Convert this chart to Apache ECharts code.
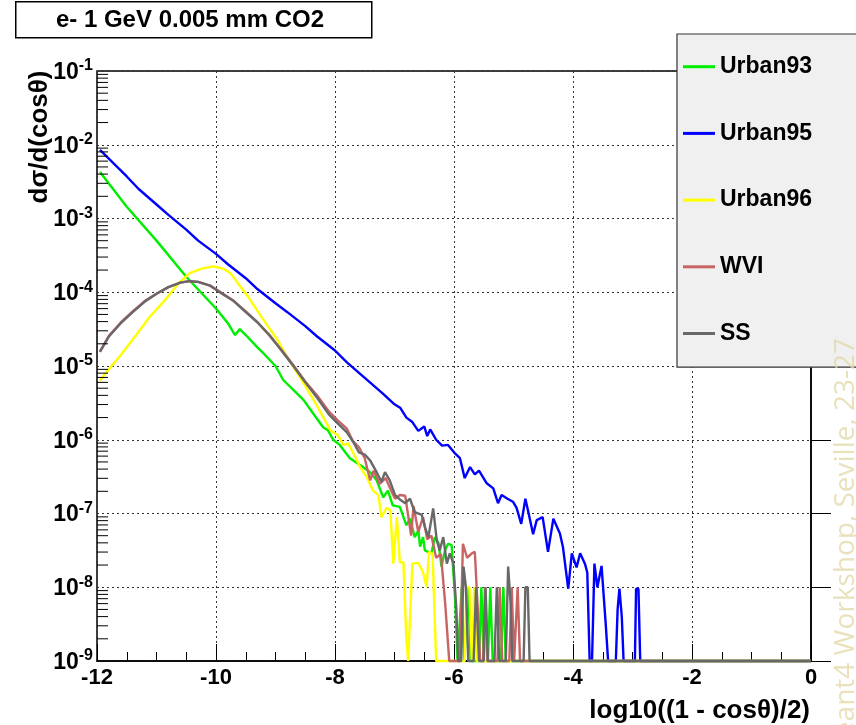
<!DOCTYPE html>
<html><head><meta charset="utf-8">
<script src="https://cdn.jsdelivr.net/npm/echarts/dist/echarts.min.js"></script>
<style>html,body{margin:0;padding:0;background:#fff}#c{width:856px;height:725px}</style>
</head><body><div id="c"></div><script>
// x = log10((1 - cos theta)/2); second number = log10 of d sigma / d(cos theta)
const urban93_log10 = [[-11.95,-2.37],[-11.5,-2.84],[-11.0,-3.30],[-10.5,-3.79],[-10.0,-4.22],[-9.8,-4.42],[-9.68,-4.58],[-9.6,-4.50],[-9.5,-4.58],[-9.3,-4.75],[-9.2,-4.83],[-9.0,-5.00],[-8.87,-5.19],[-8.64,-5.37],[-8.53,-5.46],[-8.37,-5.64],[-8.2,-5.83],[-8.12,-5.87],[-8.03,-6.00],[-7.92,-6.07],[-7.75,-6.25],[-7.53,-6.37],[-7.41,-6.44],[-7.30,-6.55],[-7.19,-6.78],[-7.11,-6.69],[-7.03,-6.89],[-6.91,-6.91],[-6.80,-7.16],[-6.74,-7.07],[-6.66,-7.32],[-6.60,-7.23],[-6.57,-7.45],[-6.52,-7.32],[-6.49,-7.50],[-6.38,-7.54],[-6.32,-7.32],[-6.26,-7.40],[-6.21,-7.72],[-6.15,-7.50],[-6.10,-7.41],[-6.04,-7.43],[-5.98,-8.18],[-5.94,-9],[-5.91,-9],[-5.87,-8.0],[-5.83,-9],[-5.80,-9],[-5.76,-8.0],[-5.72,-9],[-5.58,-9],[-5.54,-8.0],[-5.50,-9],[-5.43,-9],[-5.39,-8.0],[-5.35,-9],[-5.21,-9],[-5.17,-8.0],[-5.13,-9],[0,-9]];
const urban95_log10 = [[-11.95,-2.07],[-11.7,-2.27],[-11.5,-2.43],[-11.3,-2.60],[-11.0,-2.81],[-10.8,-2.95],[-10.5,-3.15],[-10.3,-3.30],[-10.0,-3.48],[-9.8,-3.62],[-9.5,-3.81],[-9.3,-3.96],[-9.0,-4.15],[-8.8,-4.27],[-8.5,-4.46],[-8.3,-4.60],[-8.0,-4.79],[-7.8,-4.95],[-7.5,-5.16],[-7.2,-5.37],[-7.0,-5.52],[-6.9,-5.57],[-6.8,-5.70],[-6.7,-5.76],[-6.6,-5.88],[-6.5,-5.82],[-6.45,-5.95],[-6.4,-5.86],[-6.3,-6.00],[-6.2,-6.08],[-6.1,-6.07],[-6.0,-6.17],[-5.9,-6.25],[-5.82,-6.52],[-5.73,-6.37],[-5.65,-6.47],[-5.58,-6.42],[-5.45,-6.59],[-5.34,-6.66],[-5.26,-6.86],[-5.20,-6.75],[-5.10,-6.80],[-5.01,-6.84],[-4.95,-6.92],[-4.87,-7.14],[-4.80,-6.80],[-4.74,-7.02],[-4.67,-7.28],[-4.61,-7.09],[-4.51,-7.05],[-4.42,-7.52],[-4.33,-7.07],[-4.22,-7.27],[-4.17,-7.45],[-4.08,-8.02],[-4.02,-7.54],[-3.94,-7.73],[-3.88,-7.54],[-3.80,-7.68],[-3.76,-7.80],[-3.72,-9],[-3.68,-9],[-3.64,-7.68],[-3.59,-8.0],[-3.52,-7.71],[-3.45,-8.5],[-3.41,-9],[-3.28,-9],[-3.25,-8.3],[-3.22,-8.02],[-3.18,-8.4],[-3.15,-9],[-2.96,-9],[-2.94,-8.02],[-2.90,-8.02],[-2.87,-9],[0,-9]];
const urban96_log10 = [[-11.95,-5.20],[-11.87,-5.11],[-11.61,-4.86],[-11.36,-4.60],[-11.11,-4.33],[-10.86,-4.11],[-10.63,-3.88],[-10.44,-3.74],[-10.24,-3.68],[-10.05,-3.65],[-9.88,-3.68],[-9.76,-3.74],[-9.63,-3.88],[-9.46,-4.06],[-9.29,-4.27],[-9.12,-4.47],[-8.98,-4.63],[-8.84,-4.83],[-8.56,-5.19],[-8.36,-5.46],[-8.20,-5.69],[-8.08,-5.87],[-7.95,-5.94],[-7.86,-6.07],[-7.78,-6.05],[-7.66,-6.23],[-7.58,-6.37],[-7.47,-6.50],[-7.36,-6.69],[-7.27,-6.75],[-7.22,-7.05],[-7.13,-6.92],[-7.07,-6.96],[-7.02,-7.68],[-6.96,-7.05],[-6.91,-7.66],[-6.85,-7.66],[-6.80,-8.72],[-6.77,-9],[-6.74,-9],[-6.70,-7.68],[-6.60,-7.67],[-6.52,-7.80],[-6.46,-8.0],[-6.42,-7.52],[-6.36,-7.55],[-6.30,-9],[-5.82,-9],[-5.79,-8.0],[-5.74,-8.0],[-5.70,-9],[-5.68,-9],[-5.66,-8.0],[-5.62,-9],[0,-9]];
const wvi_log10 = [[-11.95,-4.80],[-11.8,-4.59],[-11.6,-4.41],[-11.4,-4.26],[-11.2,-4.12],[-11.0,-4.02],[-10.8,-3.93],[-10.6,-3.87],[-10.45,-3.85],[-10.3,-3.86],[-10.1,-3.91],[-9.9,-4.01],[-9.7,-4.12],[-9.5,-4.26],[-9.3,-4.41],[-9.1,-4.59],[-8.9,-4.78],[-8.7,-4.99],[-8.5,-5.21],[-8.3,-5.40],[-8.1,-5.62],[-7.95,-5.74],[-7.8,-5.85],[-7.7,-6.02],[-7.6,-6.10],[-7.5,-6.25],[-7.41,-6.55],[-7.35,-6.42],[-7.25,-6.60],[-7.15,-6.52],[-7.05,-6.70],[-6.99,-6.80],[-6.91,-6.75],[-6.82,-6.76],[-6.72,-7.30],[-6.68,-6.90],[-6.60,-7.25],[-6.52,-7.05],[-6.45,-7.35],[-6.38,-7.30],[-6.30,-7.60],[-6.22,-7.55],[-6.15,-8.2],[-6.12,-8.54],[-6.08,-9],[-5.90,-9],[-5.85,-7.41],[-5.78,-7.60],[-5.70,-7.54],[-5.65,-7.52],[-5.60,-8.3],[-5.56,-9],[-5.51,-9],[-5.48,-8.0],[-5.44,-9],[-5.27,-9],[-5.23,-8.0],[-5.19,-9],[-5.07,-9],[-5.03,-8.0],[-4.99,-9],[-4.97,-9],[-4.93,-8.0],[-4.89,-9],[0,-9]];
const ss_log10 = [[-11.95,-4.81],[-11.8,-4.60],[-11.6,-4.42],[-11.4,-4.27],[-11.2,-4.13],[-11.0,-4.02],[-10.8,-3.93],[-10.6,-3.87],[-10.45,-3.85],[-10.3,-3.86],[-10.1,-3.91],[-9.9,-4.02],[-9.7,-4.12],[-9.5,-4.27],[-9.3,-4.41],[-9.1,-4.58],[-8.9,-4.79],[-8.7,-5.00],[-8.5,-5.22],[-8.3,-5.43],[-8.1,-5.66],[-7.95,-5.78],[-7.8,-5.90],[-7.7,-6.02],[-7.6,-6.17],[-7.5,-6.20],[-7.41,-6.28],[-7.30,-6.44],[-7.22,-6.57],[-7.16,-6.44],[-7.08,-6.55],[-6.99,-6.75],[-6.91,-6.81],[-6.82,-6.86],[-6.74,-6.80],[-6.66,-6.98],[-6.54,-7.02],[-6.49,-7.18],[-6.43,-7.32],[-6.35,-6.93],[-6.29,-7.36],[-6.24,-7.50],[-6.18,-7.32],[-6.12,-7.68],[-6.07,-7.54],[-6.01,-7.68],[-5.96,-8.3],[-5.93,-9],[-5.88,-9],[-5.84,-7.72],[-5.80,-8.0],[-5.76,-9],[-5.67,-9],[-5.63,-8.0],[-5.58,-9],[-5.50,-9],[-5.47,-8.0],[-5.43,-9],[-5.32,-9],[-5.28,-8.0],[-5.24,-9],[-5.13,-9],[-5.09,-7.72],[-5.05,-8.2],[-5.02,-9],[-4.83,-9],[-4.80,-8.0],[-4.76,-8.0],[-4.73,-9],[0,-9]];

const seriesNames = ['Urban93','Urban95','Urban96','WVI','SS'];
const seriesColors = ['#00ee00','#0000ff','#ffff00','#c86464','#686868'];
const seriesData = [urban93_log10, urban95_log10, urban96_log10, wvi_log10, ss_log10];
const xTicks = [-12,-10,-8,-6,-4,-2,0];
const yDecades = [-9,-8,-7,-6,-5,-4,-3,-2,-1];
const titleText = 'e- 1 GeV 0.005 mm CO2';
const xTitle = 'log10((1 - cos\u03b8)/2)';
const yTitle = 'd\u03c3/d(cos\u03b8)';

// minor tick positions of the log axis (2..9 x each decade)
const yMinorTicks = [];
for (let d = -9; d < -1; d++) for (let m = 2; m <= 9; m++) yMinorTicks.push([-12, m * Math.pow(10, d)]);

const FONT = '"Liberation Sans", Arial, Helvetica, sans-serif';
const chart = echarts.init(document.getElementById('c'), null, {renderer: 'canvas'});

const lineSeries = seriesNames.map((n, i) => ({
  name: n, type: 'line', showSymbol: false, symbol: 'none', clip: false,
  color: seriesColors[i],
  lineStyle: {color: seriesColors[i], width: 2.4},
  data: seriesData[i].map(p => [p[0], Math.pow(10, p[1])]),
  animation: false, z: 3 + i
}));

chart.setOption({
  animation: false,
  backgroundColor: '#fff',
  grid: {left: 97, right: 45, top: 71, bottom: 64, show: true, borderColor: '#000', borderWidth: 1.5, backgroundColor: 'transparent'},
  xAxis: {
    type: 'value', min: xTicks[0], max: xTicks[xTicks.length-1], interval: 2,
    axisLine: {show: true, onZero: false, lineStyle: {color: '#000', width: 1.5}},
    axisTick: {show: true, inside: true, length: 17, lineStyle: {color: '#000', width: 1}},
    minorTick: {show: true, splitNumber: 4, length: 9, lineStyle: {color: '#000', width: 1}},
    splitLine: {show: true, lineStyle: {color: '#333', width: 1, type: [2, 3]}},
    axisLabel: {margin: 6, color: '#000', fontSize: 22, fontWeight: 'bold', fontFamily: FONT}
  },
  yAxis: {
    type: 'log', logBase: 10, min: Math.pow(10, yDecades[0]), max: Math.pow(10, yDecades[yDecades.length-1]), splitNumber: 8,
    axisLine: {show: true, lineStyle: {color: '#000', width: 1.5}},
    axisTick: {show: true, inside: true, length: 20, lineStyle: {color: '#000', width: 1}},
    splitLine: {show: true, lineStyle: {color: '#333', width: 1, type: [2, 3]}},
    axisLabel: {
      margin: 4, color: '#000', fontFamily: FONT,
      formatter: v => '{b|10}{s|' + Math.round(Math.log10(v)) + '}',
      rich: {
        b: {fontSize: 23, fontWeight: 'bold', fontFamily: FONT, color: '#000', lineHeight: 26, verticalAlign: 'bottom', padding: [8,0,0,0]},
        s: {fontSize: 16, fontWeight: 'bold', fontFamily: FONT, color: '#000', lineHeight: 17, verticalAlign: 'top'}
      }
    }
  },
  legend: {
    orient: 'vertical', left: 677, top: 34,
    padding: [19.7, 60, 20.7, 6], itemGap: 40.7,
    itemWidth: 32, itemHeight: 3, icon: 'rect',
    backgroundColor: '#f0f0f0', borderColor: '#333', borderWidth: 1.2,
    data: seriesNames,
    textStyle: {fontSize: 23, fontWeight: 'bold', color: '#000', fontFamily: FONT, lineHeight: 26}
  },
  series: lineSeries.concat([{
    type: 'custom', name: 'minorTicks', silent: true, data: yMinorTicks, z: 10, clip: false,
    renderItem: (params, api) => {
      const p = api.coord([api.value(0), api.value(1)]);
      return {type: 'line', shape: {x1: p[0], y1: p[1], x2: p[0] + 11, y2: p[1]}, style: {stroke: '#000', lineWidth: 1}};
    }
  }]),
  graphic: [
    {type: 'rect', left: 15, top: 1, shape: {width: 356, height: 36}, style: {fill: '#fff', stroke: '#000', lineWidth: 1.5}, z: 50},
    {type: 'text', x: 190, y: 20, style: {text: titleText, font: 'bold 24px ' + FONT, fill: '#000', align: 'center', verticalAlign: 'middle'}, z: 51},
    {type: 'text', x: 40, y: 137, rotation: Math.PI / 2, style: {text: yTitle, font: 'bold 26px ' + FONT, fill: '#000', align: 'center', verticalAlign: 'middle'}, z: 51},
    {type: 'text', x: 810, y: 711, style: {text: xTitle, font: 'bold 26px ' + FONT, fill: '#000', align: 'right', verticalAlign: 'middle'}, z: 51},
    {type: 'text', x: 846, y: 338, rotation: Math.PI / 2, style: {text: 'Geant4 Workshop, Seville, 23-27', font: '28px "Open Sans", sans-serif', fill: 'rgba(226,218,170,0.8)', align: 'right', verticalAlign: 'middle'}, z: 100}
  ]
});
</script></body></html>
